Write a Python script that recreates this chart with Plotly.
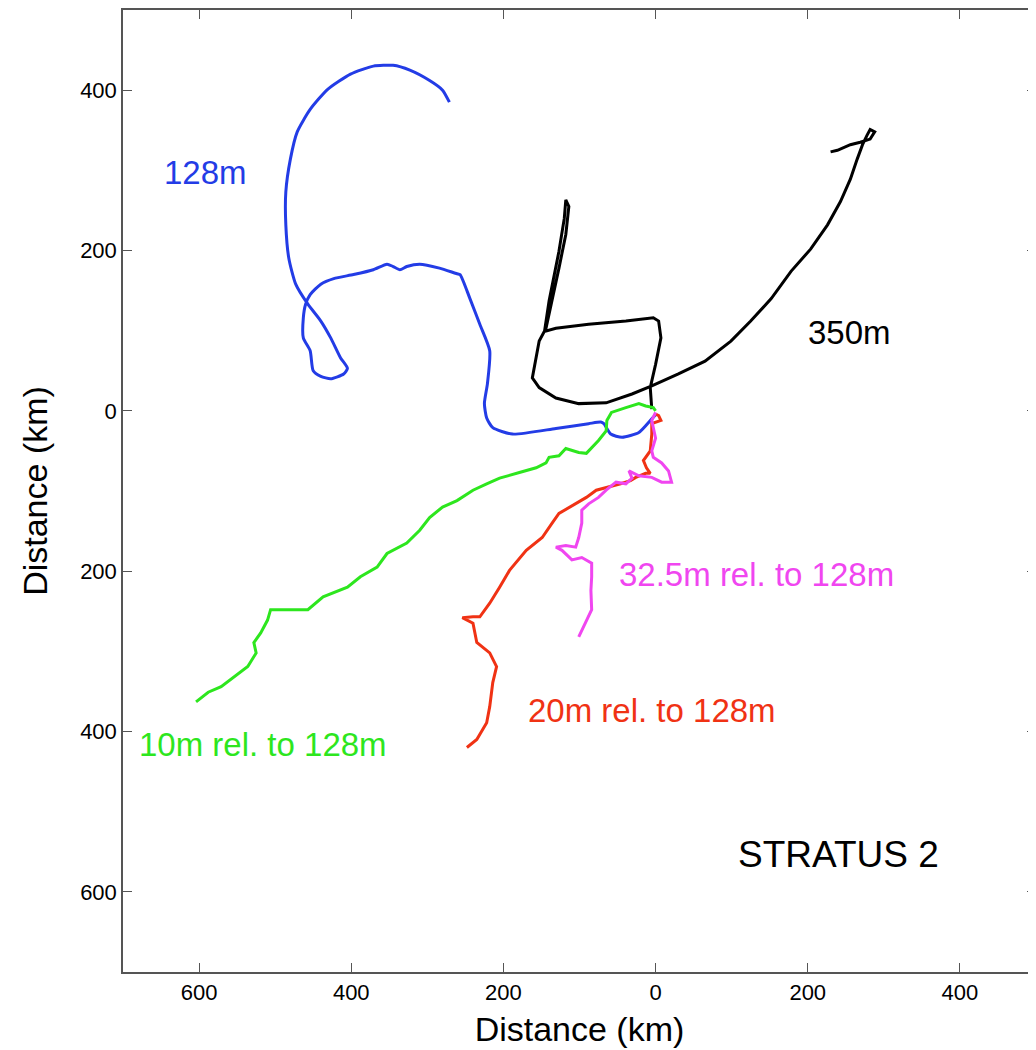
import plotly.graph_objects as go

# progressive vector tracks, km east (x) / km north (y)
x_128 = [0, -5, -22, -44, -59, -68, -72, -88, -131, -188, -214, -222, -225, -221, -218, -231,
         -244, -257, -261, -284, -310, -327, -336, -345, -353, -371, -397, -423, -440, -454,
         -460, -463, -463, -454, -450, -440, -427, -410, -405, -414, -427, -440, -457, -473,
         -482, -486, -486, -480, -471, -454, -431, -401, -371, -345, -323, -297, -280, -271]
y_128 = [-5, -10, -27, -33, -29, -16, -14, -16, -22, -29, -21, -9, 9, 34, 75, 108,
         140, 170, 171, 178, 183, 180, 176, 180, 183, 176, 170, 165, 158, 145,
         133, 116, 91, 75, 50, 43, 40, 46, 53, 66, 91, 112, 133, 158,
         190, 232, 273, 314, 348, 376, 401, 420, 430, 431, 425, 412, 400, 385]

x_350 = [-5, -7, 0, 7, 4, -3, -39, -88, -131, -146, -140, -127, -120, -118, -114, -118, -127,
         -136, -144, -153, -157, -162, -153, -131, -101, -65, -31, -5, 30, 65, 99, 125, 152,
         178, 204, 226, 243, 256, 265, 272, 278, 282, 288, 282, 269, 256, 239, 230]
y_350 = [2, 29, 58, 91, 112, 116, 112, 108, 103, 99, 137, 199, 240, 263, 255, 220, 178,
         137, 103, 87, 66, 41, 29, 16, 9, 10, 21, 31, 46, 62, 87, 112, 140,
         174, 202, 232, 261, 289, 314, 332, 344, 351, 348, 339, 335, 332, 325, 323]

x_10 = [0, -3, -13, -22, -39, -58, -64, -65, -75, -91, -101, -118, -127, -140, -144, -157,
        -179, -205, -222, -240, -261, -280, -297, -310, -327, -353, -366, -388, -405, -437,
        -457, -480, -497, -506, -510, -519, -528, -525, -536, -554, -571, -588, -604]
y_10 = [0, 4, 6, 9, 4, -2, -12, -25, -37, -53, -52, -47, -56, -58, -65, -71,
        -77, -84, -91, -99, -112, -120, -133, -149, -165, -178, -195, -207, -220, -232,
        -248, -248, -248, -248, -261, -277, -289, -302, -319, -332, -344, -351, -363]

x_20 = [0, 4, 7, -5, -5, -7, -16, -12, -7, -13, -26, -33, -46, -65, -78, -91, -110, -127,
        -136, -149, -170, -192, -205, -218, -231, -240, -254, -240, -235, -218, -209, -214,
        -218, -222, -235, -248]
y_20 = [-4, -6, -12, -16, -29, -50, -62, -71, -78, -78, -83, -87, -91, -96, -99, -108, -118, -128,
        -140, -158, -174, -199, -220, -240, -257, -257, -258, -265, -289, -302, -319, -339,
        -369, -389, -410, -420]

x_325 = [0, -5, 0, -5, -3, 8, 17, 21, 8, -5, -22, -35, -31, -39, -52, -65, -75, -88, -97,
         -97, -101, -105, -118, -131, -123, -110, -97, -84, -84, -85, -84, -92, -101]
y_325 = [-2, -12, -34, -50, -58, -65, -75, -89, -89, -83, -81, -75, -84, -91, -89, -99, -108, -116, -124,
         -140, -158, -170, -168, -170, -174, -186, -183, -190, -207, -224, -248, -265, -282]

x_ticks = [-600, -400, -200, 0, 200, 400]
x_ticktext = ['600', '400', '200', '0', '200', '400']
y_ticks = [400, 200, 0, -200, -400, -600]
y_ticktext = ['400', '200', '0', '200', '400', '600']

FONT = 'Liberation Sans, Arial, Helvetica'

fig = go.Figure()
tracks = [
    (x_128, y_128, 'rgb(35,60,230)', 'spline'),
    (x_350, y_350, 'black', 'linear'),
    (x_10, y_10, 'rgb(45,230,30)', 'linear'),
    (x_20, y_20, 'rgb(240,50,20)', 'linear'),
    (x_325, y_325, 'rgb(240,70,240)', 'linear'),
]
for xs, ys, col, shape in tracks:
    fig.add_trace(go.Scatter(x=xs, y=ys, mode='lines',
                             line=dict(color=col, width=3, shape=shape, smoothing=0.6),
                             showlegend=False))

labels = [
    (-592, 297, '128m', 'rgb(35,60,230)', 33),
    (255, 98, '350m', 'black', 33),
    (133, -204, '32.5m rel. to 128m', 'rgb(240,70,240)', 33),
    (-5, -374, '20m rel. to 128m', 'rgb(240,50,20)', 33),
    (-516, -416, '10m rel. to 128m', 'rgb(45,230,30)', 33),
    (240, -554, 'STRATUS 2', 'black', 37),
]
for x, y, txt, col, sz in labels:
    fig.add_annotation(x=x, y=y, text=txt, showarrow=False,
                       font=dict(family=FONT, size=sz, color=col))

axis_style = dict(showline=True, linecolor='#555', linewidth=1.5, mirror='ticks',
                  ticks='inside', ticklen=9, tickcolor='#555', showgrid=False,
                  zeroline=False, tickfont=dict(family=FONT, size=22, color='black'))

fig.update_xaxes(range=[-700, 500], tickvals=x_ticks, ticktext=x_ticktext,
                 title=dict(text='Distance (km)', standoff=13,
                            font=dict(family=FONT, size=34, color='black')),
                 **axis_style)
fig.update_yaxes(range=[-700, 500], tickvals=y_ticks, ticktext=y_ticktext,
                 title=dict(text='Distance (km)', standoff=22,
                            font=dict(family=FONT, size=34, color='black')),
                 **axis_style)

fig.update_layout(width=1030, height=1050, plot_bgcolor='white', paper_bgcolor='white',
                  margin=dict(l=115, r=0, t=0, b=86))

fig.write_html("out.html")
